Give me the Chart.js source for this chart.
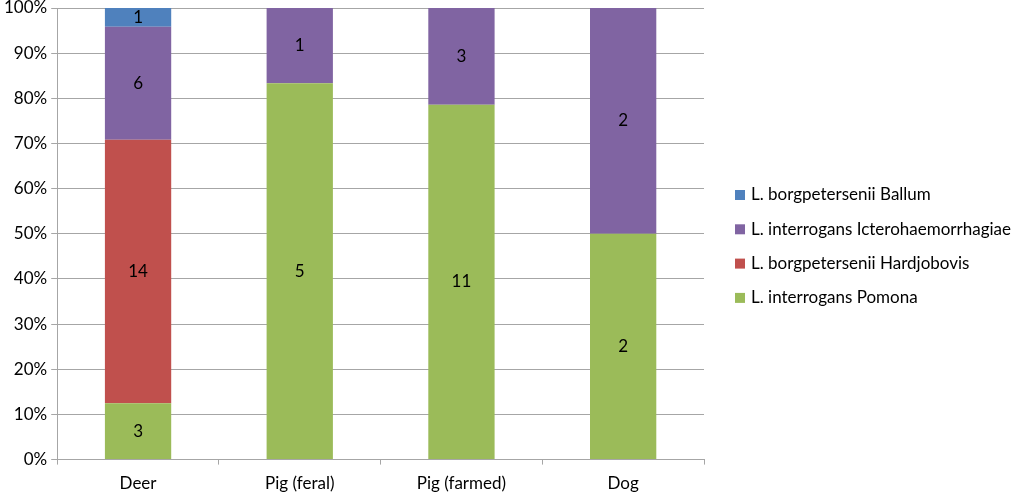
<!DOCTYPE html>
<html>
<head>
<meta charset="utf-8">
<script src="https://cdn.jsdelivr.net/npm/chart.js@4/dist/chart.umd.min.js"></script>
<style>
	html, body { margin: 0; padding: 0; background: #fff; }
	#wrap { width: 1024px; height: 492px; }
</style>
</head>
<body>
<div id="wrap"><canvas id="chart"></canvas></div>
<script>
// Categories and isolate counts per serovar
const hosts = [ "Deer", "Pig (feral)", "Pig (farmed)", "Dog" ];
const pomona = [ 3, 5, 11, 2 ];
const hardjobovis = [ 14, 0, 0, 0 ];
const ictero = [ 6, 1, 3, 2 ];
const ballum = [ 1, 0, 0, 0 ];
const yTicks = [ 0, 10, 20, 30, 40, 50, 60, 70, 80, 90, 100 ];

// totals per host, used to turn counts into 100% stacked shares
let totals = hosts.map( ( h, i ) => pomona[ i ] + hardjobovis[ i ] + ictero[ i ] + ballum[ i ] );
function share ( counts ) {
	return counts.map( ( c, i ) => c * 100 / totals[ i ] );
}

let series = [
	{ label: "L. interrogans Pomona", counts: pomona, color: "#9BBB59" },
	{ label: "L. borgpetersenii Hardjobovis", counts: hardjobovis, color: "#C0504D" },
	{ label: "L. interrogans Icterohaemorrhagiae", counts: ictero, color: "#8064A2" },
	{ label: "L. borgpetersenii Ballum", counts: ballum, color: "#4F81BD" }
];

// Writes the raw count in the middle of each segment
const countLabels = {
	id: "countLabels",
	afterDatasetsDraw ( chart ) {
		let ctx = chart.ctx;
		ctx.save();
		ctx.font = "17px Lato";
		ctx.fillStyle = "#000";
		ctx.textAlign = "center";
		ctx.textBaseline = "middle";
		chart.data.datasets.forEach( function ( ds, di ) {
			let meta = chart.getDatasetMeta( di );
			meta.data.forEach( function ( bar, i ) {
				let n = ds.counts[ i ];
				if ( !n ) return;
				ctx.fillText( String( n ), bar.x, ( bar.y + bar.base ) / 2 );
			} );
		} );
		ctx.restore();
	}
};

// Legend on the right, top series first (like the original)
const sideLegend = {
	id: "sideLegend",
	afterDraw ( chart ) {
		let ctx = chart.ctx;
		let area = chart.chartArea;
		let x = area.right + 31;
		let y = area.top + 187;
		ctx.save();
		ctx.font = "17px Lato";
		ctx.textBaseline = "middle";
		ctx.textAlign = "left";
		let items = chart.data.datasets.slice().reverse();
		items.forEach( function ( ds, i ) {
			let cy = y + i * 34.3;
			ctx.fillStyle = ds.backgroundColor;
			ctx.fillRect( x, cy - 5, 10, 10 );
			ctx.fillStyle = "#000";
			ctx.fillText( ds.label, x + 16, cy );
		} );
		ctx.restore();
	}
};

let chartConfig = {
	type: "bar",
	data: {
		labels: hosts,
		datasets: series.map( s => ( {
			label: s.label,
			counts: s.counts,
			data: share( s.counts ),
			backgroundColor: s.color,
			borderWidth: 0,
			barPercentage: 0.41,
			categoryPercentage: 1
		} ) )
	},
	options: {
		responsive: true,
		maintainAspectRatio: false,
		animation: false,
		layout: { padding: { top: 0, right: 320, left: 0, bottom: -11 } },
		scales: {
			x: {
				stacked: true,
				grid: {
					offset: true,
					drawOnChartArea: false,
					drawTicks: true,
					tickLength: 5,
					color: "#A6A6A6"
				},
				border: { color: "#A6A6A6" },
				ticks: { color: "#000", font: { family: "Lato", size: 17 }, padding: 9, maxRotation: 0 }
			},
			y: {
				stacked: true,
				min: 0,
				max: 100,
				afterBuildTicks ( axis ) {
					axis.ticks = yTicks.map( v => ( { value: v } ) );
				},
				afterFit ( axis ) {
					// keep the 100% line close to the top edge
					axis.paddingTop = 8;
				},
				grid: { color: "#A6A6A6", tickLength: 6 },
				border: { color: "#A6A6A6" },
				ticks: {
					color: "#000",
					font: { family: "Lato", size: 17 },
					padding: 4,
					callback: v => v + "%"
				}
			}
		},
		plugins: {
			legend: { display: false },
			tooltip: { enabled: false }
		}
	},
	plugins: [ countLabels, sideLegend ]
};

new Chart( document.getElementById( "chart" ), chartConfig );
</script>
</body>
</html>
